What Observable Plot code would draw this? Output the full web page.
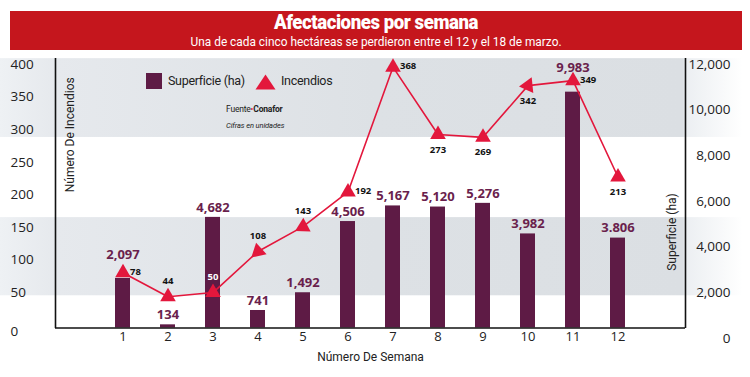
<!DOCTYPE html>
<html><head><meta charset="utf-8">
<script src="https://cdn.jsdelivr.net/npm/d3@7"></script>
<script src="https://cdn.jsdelivr.net/npm/@observablehq/plot@0.6"></script>
<style>
body{margin:0;background:#fff;}
#chart{position:relative;width:750px;height:377px;overflow:hidden;font-family:Roboto,sans-serif;}
.layer{position:absolute;left:0;top:0;}
#banner{position:absolute;left:10px;top:11px;width:732px;height:39px;background:#c5161d;color:#fff;}
.fit{position:absolute;left:0;width:732px;text-align:center;white-space:nowrap;}
.fit span{display:inline-block;transform-origin:center center;}
#title{top:1px;font-weight:900;font-size:21px;line-height:20px;height:20px;letter-spacing:-0.5px;}
#subtitle{top:23px;font-size:13.5px;line-height:15px;height:15px;}
.lg{position:absolute;font-size:12.5px;color:#222;letter-spacing:-0.3px;white-space:nowrap;}
</style></head>
<body><div id="chart"></div>
<script>
// ---- data ----
const weeks = [1,2,3,4,5,6,7,8,9,10,11,12];
const superficie = [2097,134,4682,741,1492,4506,5167,5120,5276,3982,9983,3806];
const superficieLabels = ["2,097","134","4,682","741","1,492","4,506","5,167","5,120","5,276","3,982","9,983","3.806"];
const incendios = [78,44,50,108,143,192,368,273,269,342,349,213];
const leftTicks = [0,50,100,150,200,250,300,350,400];
const rightTicks = [0,2000,4000,6000,8000,10000,12000];
const bandLow = [45,288];
const bandHigh = [165,409];

const barData = weeks.map((w,i)=>({week:w, ha:superficie[i], label:superficieLabels[i]}));
const lineData = weeks.map((w,i)=>({week:w, n:incendios[i]}));
const bands = bandLow.map((lo,i)=>({lo, hi:bandHigh[i]}));

const W=750, H=377;
const MAROON="#5e1b45", LABEL="#6a1f4d", RED="#e3173c";
const chart = document.getElementById("chart");

// ---- background layer: bands, left tick labels, frame verticals ----
const bg = Plot.plot({
  width:W, height:H, marginTop:58, marginBottom:49, marginLeft:0, marginRight:5,
  style:{background:"transparent"},
  x:{type:"linear", domain:[0,1], range:[55,685], axis:null},
  y:{type:"linear", domain:[0,400], range:[324.6,64], axis:null},
  marks:[
    Plot.rect(bands, {y1:"lo", y2:"hi", fill:"url(#bandGrad)"}),
    Plot.text(leftTicks, {filter:d=>d>0, y:d=>d, text:d=>String(d), frameAnchor:"left", dx:10, textAnchor:"start",
      fontSize:13.5, fill:"#222", fontFamily:"Open Sans"}),
    Plot.text(leftTicks, {filter:d=>d===0, y:d=>d, text:d=>String(d), frameAnchor:"left", dx:10, dy:6.5, textAnchor:"start",
      fontSize:13.5, fill:"#222", fontFamily:"Open Sans"}),
    Plot.ruleX([0,1], {stroke:"#111", strokeWidth:1.6})
  ]
});
const defs = d3.select(bg).insert("defs", ":first-child");
const grad = defs.append("linearGradient").attr("id","bandGrad").attr("gradientUnits","userSpaceOnUse")
  .attr("x1",0).attr("x2",W).attr("y1",0).attr("y2",0);
[[0,"#eef1f4"],[0.073,"#e6e9ed"],[0.5,"#dde1e5"],[0.91,"#dbdfe3"],[0.915,"#eceff2"],[0.99,"#ffffff"]]
  .forEach(([o,c])=>grad.append("stop").attr("offset",o).attr("stop-color",c));
bg.classList.add("layer"); chart.appendChild(bg);

// ---- right tick labels ----
const right = Plot.plot({
  width:W, height:H, marginTop:0, marginBottom:0, marginLeft:0, marginRight:20,
  style:{background:"transparent"},
  y:{domain:[0,12000], range:[338,64], axis:null},
  marks:[
    Plot.text(rightTicks, {y:d=>d, text:d=>d3.format(",")(d), frameAnchor:"right", textAnchor:"end",
      fontSize:13.5, fill:"#222", fontFamily:"Open Sans"})
  ]
});
right.classList.add("layer"); chart.appendChild(right);

// ---- bars layer ----
const xOpts = {type:"band", domain:weeks, paddingInner:0.667, paddingOuter:1.318, axis:null};
const bars = Plot.plot({
  width:W, height:H, marginLeft:55, marginRight:65, marginTop:44, marginBottom:49.5,
  style:{background:"transparent"},
  x:xOpts,
  y:{domain:[0,12000], range:[327.5,44], axis:null},
  marks:[
    Plot.barY(barData, {x:"week", y:"ha", fill:MAROON}),
    Plot.text(barData, {filter:d=>d.week!==1 && d.week!==11, x:"week", y:"ha", text:"label", dy:-10,
      fill:LABEL, fontWeight:"bold", fontSize:13, fontFamily:"Open Sans"}),
    Plot.text(barData, {filter:d=>d.week===1 || d.week===11, x:"week", y:"ha", text:"label", dy:-24,
      fill:LABEL, fontWeight:"bold", fontSize:13, fontFamily:"Open Sans"}),
    Plot.ruleY([0], {stroke:"#111", strokeWidth:1.6}),
    Plot.text(weeks, {x:d=>d, text:d=>String(d), frameAnchor:"bottom", dy:13, fontSize:13,
      fill:"#222", fontFamily:"Open Sans"}),
    Plot.text(["Número De Semana"], {frameAnchor:"bottom", dy:33, fontSize:12, fill:"#222", fontFamily:"Roboto"})
  ]
});
bars.classList.add("layer"); chart.appendChild(bars);

// ---- line layer ----
const rot = {4:228, 5:242, 10:264};
const rightLbl = [1,6,7,11], aboveLbl = [2,3,4,5], belowLbl = [8,9,10,12];
const lblStyle = {fontWeight:"bold", fontSize:9.5, fontFamily:"Open Sans"};
const line = Plot.plot({
  width:W, height:H, marginLeft:55, marginRight:65, marginTop:44, marginBottom:49.5,
  style:{background:"transparent"},
  x:xOpts,
  y:{domain:[0,400], range:[327.5,44], axis:null},
  marks:[
    Plot.line(lineData, {x:"week", y:"n", stroke:RED, strokeWidth:1.6}),
    Plot.dot(lineData, {x:"week", y:"n", symbol:"triangle", r:5.8, fill:RED, stroke:"none",
      rotate:d=>rot[d.week] ?? 0}),
    Plot.text(lineData, {filter:d=>rightLbl.includes(d.week), x:"week", y:"n", text:d=>String(d.n),
      textAnchor:"start", dx:7, dy:-1, fill:"#111", ...lblStyle}),
    Plot.text(lineData, {filter:d=>aboveLbl.includes(d.week), x:"week", y:"n", text:d=>String(d.n),
      dy:-16, fill:d=>d.week===3 ? "#ffffff" : "#111", ...lblStyle}),
    Plot.text(lineData, {filter:d=>belowLbl.includes(d.week), x:"week", y:"n", text:d=>String(d.n),
      dy:15, fill:"#111", ...lblStyle}),
    Plot.text(["Número De Incendios"], {frameAnchor:"left", rotate:-90, dx:15, dy:6, fontSize:12,
      fill:"#222", fontFamily:"Roboto"}),
    Plot.text(["Superficie (ha)"], {frameAnchor:"right", rotate:-90, dx:-13, dy:7, fontSize:12,
      fill:"#222", fontFamily:"Roboto"})
  ]
});
line.classList.add("layer"); chart.appendChild(line);

// ---- banner ----
const banner = document.createElement("div");
banner.id = "banner";
banner.innerHTML = '<div class="fit" id="title"><span>Afectaciones por semana</span></div>' +
  '<div class="fit" id="subtitle"><span>Una de cada cinco hectáreas se perdieron entre el 12 y el 18 de marzo.</span></div>';
chart.appendChild(banner);
[["#title span",204],["#subtitle span",371]].forEach(([sel,target])=>{
  const el = banner.querySelector(sel);
  const w = el.getBoundingClientRect().width;
  el.style.transform = `scaleX(${target/w})`;
});

// ---- legend & notes ----
const legend = document.createElement("div");
legend.innerHTML =
  `<div style="position:absolute;left:146px;top:73px;width:16px;height:16px;background:${MAROON}"></div>` +
  `<div class="lg" style="left:168px;top:73px;">Superficie (ha)</div>` +
  `<svg style="position:absolute;left:255px;top:74px" width="21" height="16"><polygon points="10.5,0.5 20.5,15.5 0.5,15.5" fill="${RED}"/></svg>` +
  `<div class="lg" style="left:281px;top:73px;">Incendios</div>` +
  `<div class="lg" style="left:226px;top:104px;font-size:8.5px;letter-spacing:-0.2px;">Fuente<span style="color:${RED}">•</span><b>Conafor</b></div>` +
  `<div class="lg" style="left:226px;top:121px;font-size:7.5px;font-style:italic;letter-spacing:-0.1px;">Cifras en unidades</div>`;
chart.appendChild(legend);
</script>
</body></html>
